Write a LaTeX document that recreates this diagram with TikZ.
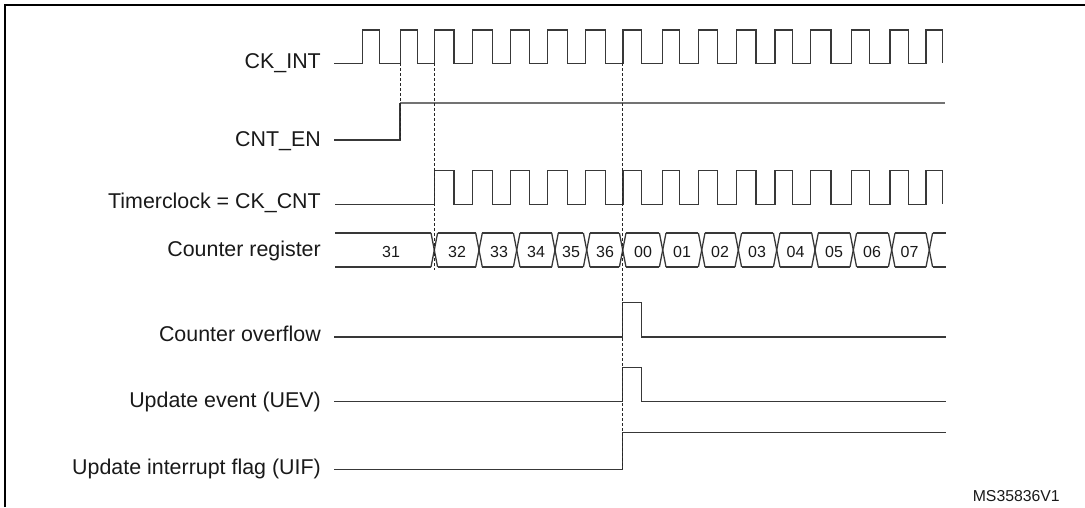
\documentclass[tikz,border=0pt]{standalone}
\usepackage{fontspec}
\setmainfont{Liberation Sans}
\begin{document}
\begin{tikzpicture}[x=1pt,y=-1pt,
  wave/.style={draw=black!78, line width=1.3pt, line join=miter, line cap=butt},
  enhigh/.style={draw=black!55, line width=1.8pt},
  guide/.style={draw=black!85, line width=0.9pt, dash pattern=on 3pt off 2pt},
  frame/.style={draw=black, line width=2pt},
  lbl/.style={anchor=base east, font=\fontsize{21.4}{25}\selectfont, text=black!90, inner sep=0pt},
  num/.style={anchor=base, font=\fontsize{16}{19}\selectfont, text=black!90, inner sep=0pt},
]
\useasboundingbox (0,0) rectangle (1085,507);
% frame
\draw[frame] (4.7,507) -- (4.7,4.7) -- (1085,4.7);

% labels
\node[lbl] (lckint) at (321,68.3) {CK\_INT};
\node[lbl] (lcnten) at (321,146.7) {CNT\_EN};
\node[lbl] (ltimer) at (321,208.3) {Timerclock = CK\_CNT};
\node[lbl] (lcntreg) at (321,256.5) {Counter register};
\node[lbl] (lovf) at (321,341.7) {Counter overflow};
\node[lbl] (luev) at (321,407.3) {Update event (UEV)};
\node[lbl] (luif) at (321,474) {Update interrupt flag (UIF)};
\node[anchor=base, font=\fontsize{15.8}{18}\selectfont, text=black!90, inner sep=0pt] (ms) at (1016.3,501.7) {MS35836V1};

% CK_INT
\draw[wave] (334,63.3)
  foreach \r/\f in {362.7/379.3, 400.7/417.3, 434.3/454, 472.7/492.3, 510.7/529.3, 547.3/567.7, 585.7/605.3, 623/641.7, 662.7/679.3, 698.3/717.7, 736.7/756, 775/792.3, 810.7/831, 851.7/869.3, 890/908.3, 926/942.7}
  { -- (\r,63.3) -- (\r,30) -- (\f,30) -- (\f,63.3) };

% CNT_EN
\draw[wave] (334,140) -- (400,140) -- (400,102.7);
\draw[enhigh] (400,102.7) -- (945,102.7);

% Timerclock = CK_CNT
\draw[wave] (335,204.3)
  foreach \r/\f in {434.3/454, 472.7/492.3, 510.7/529.3, 547.3/567.7, 585.7/605.3, 623/641.7, 662.7/679.3, 698.3/717.7, 736.7/756, 775/792.3, 810.7/831, 851.7/869.3, 890/908.3, 926/942.7}
  { -- (\r,204.3) -- (\r,170.7) -- (\f,170.7) -- (\f,204.3) };

% Counter register bus
\foreach \a/\b in {335/431, 437.6/475.7, 482.3/513.4, 520/551.7, 558.3/583.4, 590/619.4, 626/659.4, 666/698.4, 705/735, 741.6/773.4, 780/811.7, 818.3/850, 856.6/888.4, 895/926, 932.6/946}
  { \draw[wave] (\a,233) -- (\b,233); \draw[wave] (\a,267) -- (\b,267); }
\foreach \t in {434.3, 479, 516.7, 555, 586.7, 622.7, 662.7, 701.7, 738.3, 776.7, 815, 853.3, 891.7, 929.3}
  { \draw[wave] ({\t-3.3},233) -- ({\t+3.3},267); \draw[wave] ({\t-3.3},267) -- ({\t+3.3},233); }
\foreach \x/\v [count=\i] in {391/31, 457/32, 499/33, 536/34, 571/35, 605/36, 643/00, 682/01, 720/02, 757/03, 795.5/04, 834/05, 872/06, 909.5/07}
  { \node[num] (v\i) at (\x,257) {\v}; }

% Counter overflow
\draw[wave] (334,337) -- (622.7,337) -- (622.7,302.7) -- (641.3,302.7) -- (641.3,337) -- (945.7,337);
% Update event
\draw[wave] (334,401.7) -- (622.7,401.7) -- (622.7,367.3) -- (641.3,367.3) -- (641.3,401.7) -- (945.7,401.7);
% Update interrupt flag
\draw[wave] (334,469.3) -- (622.7,469.3) -- (622.7,432.7) -- (945.7,432.7);

% dashed guides
\coordinate (g1t) at (400,63.3);   \coordinate (g1b) at (400,140);
\coordinate (g2t) at (434.3,63.3); \coordinate (g2b) at (434.3,270);
\coordinate (g3t) at (622.7,63.3); \coordinate (g3b) at (622.7,469.3);
\draw[guide] (g1t) -- (g1b);
\draw[guide] (g2t) -- (g2b);
\draw[guide] (g3t) -- (g3b);
\end{tikzpicture}
\end{document}
